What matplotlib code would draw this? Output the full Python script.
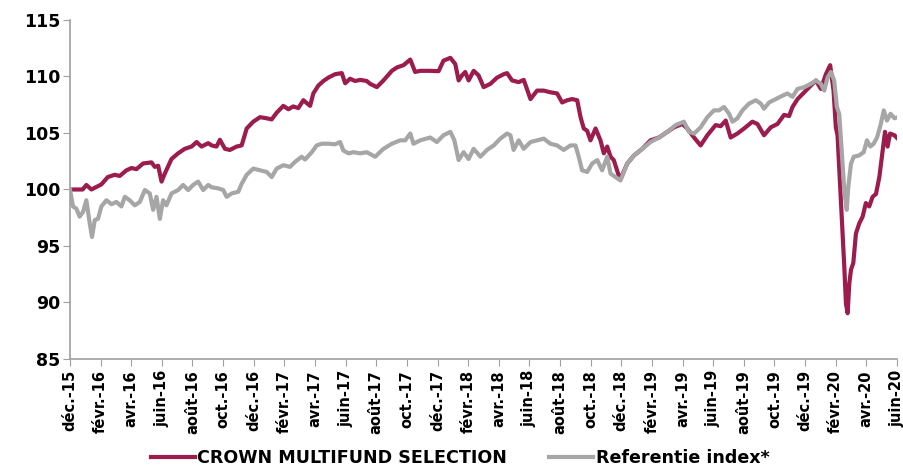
import matplotlib.pyplot as plt

plt.rcParams['font.family'] = 'Arimo'
plt.rcParams['font.weight'] = 'bold'

# x in months since 1 Dec 2015
fund_x = [0.0, 0.83, 1.07, 1.40, 2.05, 2.47, 2.92, 3.25, 3.69, 4.02, 4.34, 4.77, 5.32, 5.54,
          5.76, 5.98, 6.19, 6.63, 7.06, 7.50, 7.94, 8.27, 8.59, 9.03, 9.25, 9.57, 9.79, 10.12,
          10.44, 10.88, 11.21, 11.54, 11.97, 12.41, 12.85, 13.17, 13.50, 13.93, 14.26, 14.58,
          14.91, 15.24, 15.68, 15.89, 16.22, 16.55, 16.87, 17.31, 17.75, 17.97, 18.29, 18.62,
          18.95, 19.38, 19.60, 20.04, 20.47, 21.02, 21.35, 21.78, 22.22, 22.54, 22.87, 23.52,
          24.07, 24.39, 24.84, 25.16, 25.38, 25.60, 25.81, 26.03, 26.36, 26.68, 27.01, 27.45,
          27.89, 28.32, 28.54, 28.87, 29.30, 29.63, 30.07, 30.50, 30.94, 31.37, 31.81, 32.14,
          32.47, 32.79, 33.12, 33.34, 33.55, 33.77, 33.99, 34.32, 34.64, 34.86, 35.08, 35.30,
          35.51, 35.84, 35.97, 36.39, 36.82, 37.37, 37.91, 38.46, 39.01, 39.44, 39.99, 40.31,
          40.75, 41.18, 41.62, 42.16, 42.49, 42.82, 43.14, 43.58, 44.02, 44.56, 44.89, 45.32,
          45.76, 46.20, 46.63, 46.96, 47.18, 47.51, 47.94, 48.38, 48.71, 49.03, 49.36, 49.64,
          49.86, 50.01, 50.12, 50.34, 50.56, 50.67, 50.78, 50.89, 51.00, 51.15, 51.32, 51.54,
          51.76, 51.97, 52.19, 52.41, 52.63, 52.85, 53.07, 53.22, 53.39, 53.55, 53.83, 54.05]
fund_y = [100.0, 100.0, 100.4, 100.0, 100.45, 101.1, 101.3, 101.2, 101.7, 101.9, 101.8, 102.3,
          102.4, 102.0, 102.1, 100.7, 101.4, 102.7, 103.2, 103.6, 103.8, 104.2, 103.8, 104.1,
          103.9, 103.8, 104.4, 103.6, 103.5, 103.8, 103.9, 105.4, 106.0, 106.4, 106.3, 106.2,
          106.8, 107.4, 107.1, 107.35, 107.2, 107.9, 107.4, 108.5, 109.2, 109.6, 109.9, 110.2,
          110.3, 109.4, 109.8, 109.6, 109.7, 109.6, 109.35, 109.06, 109.65, 110.5, 110.8, 111.0,
          111.5, 110.4, 110.5, 110.5, 110.47, 111.4, 111.65, 111.1, 109.65, 110.1, 110.4, 109.65,
          110.5, 110.1, 109.06, 109.35, 109.9, 110.2, 110.3, 109.65, 109.5, 109.7, 108.0, 108.75,
          108.75, 108.6, 108.5, 107.7, 107.9, 108.0, 107.9, 106.4, 105.4, 105.2, 104.35, 105.4,
          104.35, 103.2, 103.8, 102.9, 102.6, 101.2, 101.0, 102.3, 103.0, 103.6, 104.35, 104.6,
          105.1, 105.5, 105.8, 105.4, 104.6, 103.9, 104.8, 105.7, 105.6, 106.1, 104.6, 104.95,
          105.4, 106.0, 105.8, 104.8, 105.5, 105.8, 106.6, 106.5, 107.3, 108.0, 108.6, 109.2,
          109.65, 108.9, 110.2, 111.0,
          108.75, 105.5, 104.8, 99.05, 93.2, 89.9, 89.05, 91.7, 92.9, 93.5, 96.1, 97.0,
          97.6, 98.8, 98.5, 99.35, 99.6, 101.1, 103.5, 105.1, 103.8, 104.95, 104.8, 104.5]

index_x = [0.0, 0.20, 0.42, 0.63, 0.85, 1.07, 1.29, 1.44, 1.62, 1.83, 2.05, 2.38, 2.71, 3.03,
           3.36, 3.58, 3.90, 4.23, 4.56, 4.89, 5.21, 5.43, 5.65, 5.87, 6.08, 6.30, 6.63, 7.06,
           7.39, 7.72, 8.04, 8.37, 8.70, 9.03, 9.25, 9.68, 10.01, 10.23, 10.56, 10.99, 11.21,
           11.54, 11.97, 12.41, 12.85, 13.17, 13.50, 13.93, 14.37, 14.70, 15.13, 15.35, 15.79,
           16.11, 16.44, 16.87, 17.31, 17.64, 17.85, 18.18, 18.51, 18.95, 19.38, 19.93, 20.47,
           21.02, 21.56, 21.89, 22.22, 22.43, 22.87, 23.52, 23.96, 24.39, 24.84, 25.10, 25.38,
           25.70, 26.03, 26.36, 26.80, 27.23, 27.67, 28.10, 28.54, 28.76, 28.97, 29.30, 29.63,
           30.07, 30.50, 30.94, 31.37, 31.81, 32.24, 32.68, 33.01, 33.22, 33.44, 33.77, 34.10,
           34.43, 34.75, 35.08, 35.30, 35.62, 35.95, 36.39, 36.82, 37.37, 37.91, 38.46, 39.01,
           39.55, 40.09, 40.42, 40.75, 41.18, 41.62, 42.05, 42.38, 42.71, 43.04, 43.26, 43.58,
           43.91, 44.34, 44.78, 45.11, 45.32, 45.65, 46.09, 46.52, 46.85, 47.18, 47.51, 47.94,
           48.38, 48.71, 49.03, 49.25, 49.47, 49.69, 49.90, 50.08, 50.23, 50.39, 50.56, 50.72,
           50.82, 51.00, 51.18, 51.51, 51.83, 52.04, 52.26, 52.48, 52.70, 52.93, 53.14, 53.35,
           53.58, 53.84, 54.06]
index_y = [100.0, 98.5, 98.3, 97.6, 98.0, 99.05, 97.0, 95.8, 97.3, 97.4, 98.5, 99.05, 98.7,
           98.9, 98.5, 99.35, 99.05, 98.6, 98.9, 99.95, 99.65, 98.2, 99.35, 97.4, 99.05, 98.6,
           99.65, 99.95, 100.4, 99.95, 100.4, 100.7, 99.95, 100.4, 100.2, 100.1, 99.95, 99.35,
           99.65, 99.8, 100.5, 101.3, 101.85, 101.7, 101.55, 101.1, 101.85, 102.15, 102.0,
           102.45, 102.9, 102.65, 103.3, 103.9, 104.05, 104.05, 104.0, 104.2, 103.45, 103.2,
           103.3, 103.2, 103.3, 102.9, 103.6, 104.05, 104.35, 104.35, 104.95, 104.05, 104.35,
           104.6, 104.2, 104.8, 105.1, 104.35, 102.6, 103.3, 102.7, 103.6, 102.9, 103.5, 103.9,
           104.5, 104.95, 104.8, 103.5, 104.35, 103.6, 104.2, 104.35, 104.5, 104.05, 103.9,
           103.5, 103.9, 103.9, 102.9, 101.7, 101.55, 102.3, 102.6, 101.7, 102.9, 101.4, 101.1,
           100.8, 102.3, 103.0, 103.6, 104.2, 104.6, 105.1, 105.7, 106.0, 105.1, 104.95, 105.5,
           106.4, 107.0, 107.0, 107.3, 106.7, 106.0, 106.3, 107.0, 107.6, 107.9, 107.6, 107.15,
           107.7, 108.0, 108.3, 108.5, 108.2, 108.9, 109.05, 109.35, 109.65, 109.35, 108.75,
           109.9, 110.4, 109.65, 107.3, 106.7, 103.5, 99.95, 98.2, 100.2, 102.3, 102.9, 103.0,
           103.3, 104.35, 103.8, 104.05, 104.6, 105.7, 107.0, 106.1, 106.7, 106.3, 106.4]

tick_labels = ['déc.-15', 'févr.-16', 'avr.-16', 'juin-16', 'août-16', 'oct.-16', 'déc.-16',
               'févr.-17', 'avr.-17', 'juin-17', 'août-17', 'oct.-17', 'déc.-17',
               'févr.-18', 'avr.-18', 'juin-18', 'août-18', 'oct.-18', 'déc.-18',
               'févr.-19', 'avr.-19', 'juin-19', 'août-19', 'oct.-19', 'déc.-19',
               'févr.-20', 'avr.-20', 'juin-20']

fig = plt.figure(figsize=(9.04, 4.68), dpi=100)
ax = fig.add_axes([0.0774, 0.2329, 0.9148, 0.7244])

ax.plot(fund_x, fund_y, color='#9C1C4E', lw=3.0, label='CROWN MULTIFUND SELECTION')
ax.plot(index_x, index_y, color='#A6A6A6', lw=3.0, label='Referentie index*')

ax.set_xlim(0, 54)
ax.set_ylim(85, 115)
ax.set_xticks(range(0, 55, 2))
ax.set_xticklabels(tick_labels, rotation=90, fontsize=10.5, family='Arimo', weight='bold')
ax.set_yticks(range(85, 116, 5))
ax.set_yticklabels([str(v) for v in range(85, 116, 5)], fontsize=12.5, family='Arimo',
                   weight='bold')
ax.tick_params(axis='y', length=5, color='#A0A0A0', pad=2)
ax.tick_params(axis='x', length=5, color='#A0A0A0', pad=3)

for s in ['top', 'right']:
    ax.spines[s].set_visible(False)
for s in ['left', 'bottom']:
    ax.spines[s].set_color('#A0A0A0')
    ax.spines[s].set_linewidth(1.2)

fig.legend(loc='center', bbox_to_anchor=(0.509, 0.022), ncol=2, frameon=False,
           handlelength=2.5, columnspacing=2.4, handletextpad=0.15,
           prop={'family': 'Arimo', 'weight': 'bold', 'size': 12.6})

fig.savefig('out.png', dpi=100)
